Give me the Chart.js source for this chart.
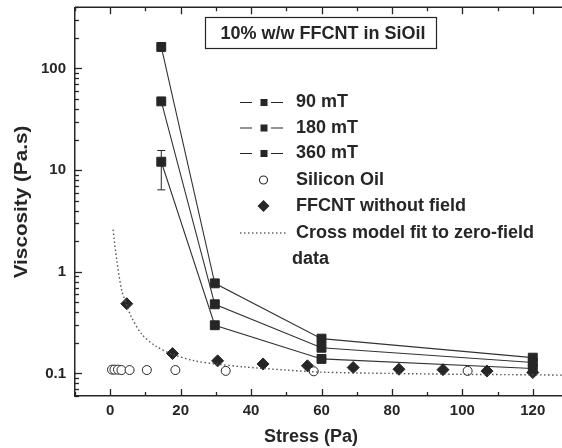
<!DOCTYPE html>
<html>
<head>
<meta charset="utf-8">
<script src="https://cdn.jsdelivr.net/npm/chart.js@4.4.0/dist/chart.umd.min.js"></script>
<style>
  html, body { margin: 0; padding: 0; overflow: hidden; background: #fff; }
  #wrap { width: 600px; height: 448px; }
</style>
</head>
<body>
<div id="wrap"><canvas id="chart" width="600" height="448"></canvas></div>
<script>
// Field data (squares joined by lines)
const stressField = [14.5, 29.7, 60, 120];
const visc90 = [12.1, 0.298, 0.139, 0.112];
const visc180 = [47.5, 0.479, 0.179, 0.128];
const visc360 = [163, 0.77, 0.22, 0.143];
const err90Low = [6.4, null, null, null];
const err90High = [15.6, null, null, null];

// Silicon oil (open circles)
const stressOil = [0.5, 1.2, 2.2, 3.2, 5.5, 10.4, 18.5, 32.8, 57.8, 101.5];
const viscOil = [0.109, 0.109, 0.109, 0.108, 0.108, 0.108, 0.108, 0.106, 0.105, 0.106];

// FFCNT without field (diamonds)
const stressNoField = [4.7, 17.7, 30.5, 43.4, 56, 69, 82, 94.5, 107, 120];
const viscNoField = [0.485, 0.157, 0.133, 0.124, 0.119, 0.1145, 0.110, 0.109, 0.1055, 0.102];

// Cross model fit (dotted)
const stressFit = [0.8, 1.9, 3.3, 4.7, 6.1, 9, 12.8, 17.5, 24, 30, 38, 50, 60, 80, 100, 120, 130];
const viscFit = [2.6, 1.27, 0.65, 0.47, 0.354, 0.243, 0.187, 0.155, 0.133, 0.124, 0.116, 0.108, 0.103, 0.1, 0.098, 0.097, 0.096];

const xTicks = [0, 20, 40, 60, 80, 100, 120];
const yTicks = [0.1, 1, 10, 100];
const legendLabels = ['90 mT', '180 mT', '360 mT', 'Silicon Oil', 'FFCNT without field', 'Cross model fit to zero-field', 'data'];
const boxTitle = '10% w/w FFCNT in SiOil';

const ink = '#262626';
const FONT = '"Liberation Sans", Arial, sans-serif';

const toPts = (xs, ys) => xs.map((x, i) => ({ x: x, y: ys[i] }));

const squareSet = (label, ys) => ({
  label: label,
  data: toPts(stressField, ys),
  showLine: true,
  borderColor: '#333',
  borderWidth: 1.1,
  pointStyle: 'rect',
  pointRadius: 6.3,
  pointBackgroundColor: ink,
  pointBorderColor: ink,
  pointBorderWidth: 1
});

// error bar, inward ticks, top border, axis titles, legend and label box
const decorations = {
  id: 'decorations',
  beforeDatasetsDraw(chart) {
    const { ctx, chartArea: a, scales: { x, y } } = chart;
    ctx.save();
    ctx.strokeStyle = ink;
    ctx.lineWidth = 1.5;
    // top border
    ctx.beginPath();
    ctx.moveTo(a.left, a.top);
    ctx.lineTo(a.right, a.top);
    ctx.stroke();
    ctx.lineWidth = 1.3;
    // x ticks bottom and top
    for (let v = -10; v <= 130; v += 10) {
      const px = Math.round(x.getPixelForValue(v)) + 0.5;
      const len = v % 20 === 0 ? 7 : 4;
      ctx.beginPath();
      ctx.moveTo(px, a.bottom);
      ctx.lineTo(px, a.bottom - len);
      ctx.moveTo(px, a.top);
      ctx.lineTo(px, a.top + len);
      ctx.stroke();
    }
    // y ticks (log minor)
    for (let d = 0.01; d <= 100; d *= 10) {
      for (let m = 1; m <= 9; m++) {
        const v = d * m;
        if (v < y.min || v > y.max) continue;
        const py = Math.round(y.getPixelForValue(v)) + 0.5;
        const len = m === 1 ? 7 : 4;
        ctx.beginPath();
        ctx.moveTo(a.left, py);
        ctx.lineTo(a.left + len, py);
        ctx.stroke();
      }
    }
    ctx.restore();
  },
  afterDatasetsDraw(chart) {
    const { ctx, scales: { x, y } } = chart;
    ctx.save();
    ctx.strokeStyle = ink;
    ctx.lineWidth = 1;
    // error bars
    stressField.forEach((s, i) => {
      if (err90Low[i] == null) return;
      const px = x.getPixelForValue(s);
      const pl = y.getPixelForValue(err90Low[i]);
      const ph = y.getPixelForValue(err90High[i]);
      ctx.beginPath();
      ctx.moveTo(px, pl); ctx.lineTo(px, ph);
      ctx.moveTo(px - 4, pl); ctx.lineTo(px + 4, pl);
      ctx.moveTo(px - 4, ph); ctx.lineTo(px + 4, ph);
      ctx.stroke();
    });

    // label box
    ctx.lineWidth = 1.2;
    ctx.strokeRect(205.5, 17.5, 231, 31);
    ctx.fillStyle = ink;
    ctx.font = 'bold 18px ' + FONT;
    ctx.textAlign = 'center';
    ctx.textBaseline = 'middle';
    ctx.fillText(boxTitle, 323, 34);

    // axis titles
    ctx.font = 'bold 18px ' + FONT;
    ctx.fillText('Stress (Pa)', 311, 437);
    ctx.save();
    ctx.translate(22, 202);
    ctx.rotate(-Math.PI / 2);
    ctx.scale(1.15, 1);
    ctx.fillText('Viscosity (Pa.s)', 0, 0);
    ctx.restore();

    // legend
    const rows = [102.5, 128, 153.5, 180, 206, 233, 259];
    ctx.font = 'bold 18px ' + FONT;
    ctx.textAlign = 'left';
    ctx.lineWidth = 1.1;
    for (let i = 0; i < 3; i++) {
      const ry = rows[i];
      ctx.beginPath();
      ctx.moveTo(240, ry); ctx.lineTo(252, ry);
      ctx.moveTo(271, ry); ctx.lineTo(283, ry);
      ctx.stroke();
      ctx.fillRect(260.5, ry - 3.5, 7, 7);
    }
    ctx.beginPath();
    ctx.arc(263.5, rows[3], 4, 0, Math.PI * 2);
    ctx.stroke();
    ctx.beginPath();
    ctx.moveTo(263.5, rows[4] - 6); ctx.lineTo(269.5, rows[4]);
    ctx.lineTo(263.5, rows[4] + 6); ctx.lineTo(257.5, rows[4]);
    ctx.closePath();
    ctx.fill();
    ctx.save();
    ctx.strokeStyle = '#666';
    ctx.lineWidth = 1.4;
    ctx.setLineDash([1.5, 2.5]);
    ctx.beginPath();
    ctx.moveTo(240, rows[5]); ctx.lineTo(286, rows[5]);
    ctx.stroke();
    ctx.restore();
    legendLabels.forEach((t, i) => {
      ctx.fillText(t, i === 6 ? 292 : 296, rows[i]);
    });
    ctx.restore();
  }
};

new Chart(document.getElementById('chart'), {
  type: 'scatter',
  data: {
    datasets: [
      {
        label: 'Cross model fit',
        data: toPts(stressFit, viscFit),
        showLine: true,
        borderColor: '#555',
        borderWidth: 1.4,
        borderDash: [1.5, 2.5],
        pointRadius: 0,
        tension: 0.3
      },
      {
        label: 'Silicon Oil',
        data: toPts(stressOil, viscOil),
        pointStyle: 'circle',
        pointRadius: 4.5,
        pointBackgroundColor: '#fff',
        pointBorderColor: ink,
        pointBorderWidth: 1
      },
      {
        label: 'FFCNT without field',
        data: toPts(stressNoField, viscNoField),
        pointStyle: 'rectRot',
        pointRadius: 6,
        pointBackgroundColor: ink,
        pointBorderColor: ink,
        pointBorderWidth: 1
      },
      squareSet('90 mT', visc90),
      squareSet('180 mT', visc180),
      squareSet('360 mT', visc360)
    ]
  },
  options: {
    responsive: false,
    animation: false,
    devicePixelRatio: 1,
    layout: { padding: { top: 4, right: 32, left: 0, bottom: 0 } },
    plugins: { legend: { display: false }, tooltip: { enabled: false } },
    scales: {
      x: {
        type: 'linear',
        min: -10,
        max: 130,
        afterBuildTicks: s => { s.ticks = xTicks.map(v => ({ value: v })); },
        afterFit: s => { s.height = 52; s.paddingLeft = 0; s.paddingRight = 0; },
        grid: { display: false, drawTicks: false },
        border: { display: true, color: ink, width: 1.5 },
        ticks: { color: ink, padding: 6, font: { family: FONT, size: 15, weight: 'bold' } }
      },
      y: {
        type: 'logarithmic',
        min: 0.06,
        max: 400,
        afterBuildTicks: s => { s.ticks = yTicks.map(v => ({ value: v })); },
        afterFit: s => { s.width = 75; s.paddingTop = 0; s.paddingBottom = 0; },
        grid: { display: false, drawTicks: false },
        border: { display: true, color: ink, width: 1.5 },
        ticks: {
          color: ink,
          padding: 9,
          font: { family: FONT, size: 15, weight: 'bold' },
          callback: v => String(v)
        }
      }
    }
  },
  plugins: [decorations]
});
</script>
</body>
</html>
